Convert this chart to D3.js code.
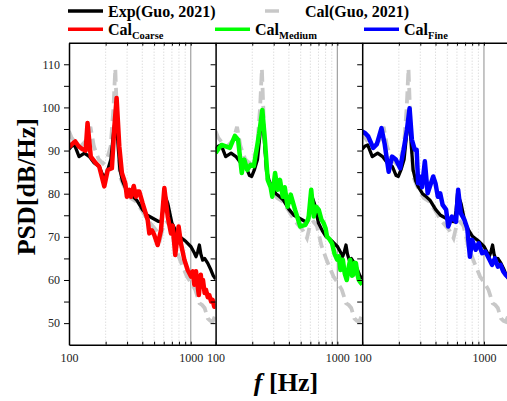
<!DOCTYPE html>
<html>
<head>
<meta charset="utf-8">
<script src="https://cdn.jsdelivr.net/npm/d3@7"></script>
<style>
  body { margin: 0; background: #fff; }
  text { font-family: "Liberation Serif", "Times New Roman", serif; }
</style>
</head>
<body>
<svg id="chart" width="507" height="401"></svg>
<script>
// ----- data -----
const freqExp = [100,105,111,121,134,147,160,177,190,198,208,221,232,242,252,262,275,290,313,330,360,402,440,487,540,570,590,607,625,647,700,750,805,860,913,1005,1060,1104,1140,1177,1210,1254,1300,1378,1466,1530,1600];
const psdExp  = [90.3,91,91.3,88.6,89.4,88.6,87.2,86.3,84.2,84,85.5,88,94,98,92,85.5,83,81.5,80,79.5,78.5,76.3,75,74.3,73.6,73.5,76,80.1,79,77.8,73.2,71.5,70.1,69.5,68.9,67.7,66.5,65.4,66.5,68.1,66,64.6,65,63.9,62.3,61,60.2];

const freqGuo = [100,105,112,125,140,150,160,175,190,205,220,232,240,250,262,280,320,355,400,440,520,563,600,640,680,740,820,930,1000,1090,1180,1240,1300,1380,1450,1510,1600];
const psdGuo  = [94.5,93,92,91,92.5,95.5,91,88,87,88,91,100,109,95,84,82,79,78.2,76,74,71.5,69.7,73,73.5,72.5,68,64.5,60.8,59.5,57.7,54.6,54.2,53.5,51.1,50.5,50.3,52];

const freqCoarse = [100,106,112.6,120,129,137,142,151,166,177,195,208,225,236,246,259,272,290,299,313,323,340,355,365,378,402,443,457,480,502,535,570,607,647,688,710,746,795,830,886,944,1005,1040,1070,1104,1135,1165,1209,1235,1260,1300,1335,1380,1420,1470,1512,1560,1600];
const psdCoarse  = [90.8,91.5,92.1,91,90.3,90,96.4,88.6,87.1,86.3,81.7,85.5,85.9,95.6,102.2,90.9,84.8,82.4,79.3,80.9,79.3,81.8,79.3,80.5,80.5,77.8,73.9,70.8,71.5,70.4,68.1,71.6,81.3,74.7,70.8,72.6,65.8,72.4,68.5,64.7,62.3,60.8,62,58.9,62,59,56.5,61.2,58.5,60,57,57.7,56,56.5,55,55.4,53.8,54.5];

const freqMedium = [100,106,112,123,131,144,153,164,172,182,194,206,217,228,242,254,268,283,292,308,323,338,356,370,390,414,449,496,547,580,610,640,670,703,740,771,800,822,860,904,950,995,1030,1060,1110,1150,1195,1240,1275,1320,1350,1390,1420,1470,1500,1560,1600];
const psdMedium  = [89.4,90.5,91.3,90.9,90.6,93.4,92.5,84.8,87.9,85.5,86.7,86.4,90.2,94,99.4,92.5,83.2,81.5,79.3,84.8,80.9,83.2,79.3,81.5,77,79.8,76.3,72.4,72.8,74.3,80.9,74.7,77,76.3,74,73.2,72,70.1,69.5,68.5,66,64.7,65.5,62.3,64.7,61.5,60,63,64.7,61,61.2,64,63.9,61,60,59.3,59];

const freqFine = [100,106,112,123,132,144,153,165,176,189,205,219,233,245,256,270,280,288,302,310,327,345,358,383,400,418,437,458,489,509,545,590,614,645,690,729,767,800,855,905,966,1025,1080,1120,1165,1230,1300,1370,1440,1510,1600];
const psdFine  = [94.4,94,93.3,90.6,91.5,95.2,91.5,85.1,88.6,87.9,85.9,90.2,94.8,99.8,92.5,90.2,90.2,82.4,83.9,81.5,87.5,80.1,81.5,84,82.4,79.3,80.1,77.4,76.3,72.4,74.7,73.5,80.9,75.5,74,72,65.4,69.3,67,68.5,66.2,66.6,65.4,64.5,63.5,65,63.1,63.5,62,61.2,60.5];

const xMajorTicks = [100, 1000];
const xMinorTicks = [200, 300, 400, 500, 600, 700, 800, 900];
const yTicks = [50, 55, 60, 65, 70, 75, 80, 85, 90, 95, 100, 105, 110];
const yLabelTicks = [50, 60, 70, 80, 90, 100, 110];

const panelSeries = [
    { name: "Coarse", freq: freqCoarse, psd: psdCoarse, color: "#ff0000" },
    { name: "Medium", freq: freqMedium, psd: psdMedium, color: "#00ff00" },
    { name: "Fine",   freq: freqFine,   psd: psdFine,   color: "#0000ff" }
];

// ----- layout -----
const svg = d3.select("#chart");
const margin = { top: 42.7, left: 69 };
const panelWidth = 146.6;
const plotHeight = 302;

const x = d3.scaleLog().domain([100, 1600]).range([0, panelWidth]);
const y = d3.scaleLinear().domain([45, 115]).range([plotHeight, 0]);

const line = d3.line()
    .x(d => x(d[0]))
    .y(d => y(d[1]));

const zip = (a, b) => a.map((v, i) => [v, b[i]]);

const defs = svg.append("defs");
defs.append("clipPath").attr("id", "panelClip")
    .append("rect")
    .attr("x", 0).attr("y", 0)
    .attr("width", panelWidth).attr("height", plotHeight);

panelSeries.forEach((s, i) => {
    const panel = svg.append("g")
        .attr("transform", `translate(${margin.left + i * panelWidth},${margin.top})`);

    // vertical grid
    panel.selectAll("line.minor").data(xMinorTicks)
        .join("line")
        .attr("class", "minor")
        .attr("x1", d => x(d)).attr("x2", d => x(d))
        .attr("y1", 0).attr("y2", plotHeight)
        .style("stroke", "#c4c4c4")
        .style("stroke-width", 0.8)
        .style("stroke-dasharray", "1,2");
    panel.append("line")
        .attr("x1", x(1000)).attr("x2", x(1000))
        .attr("y1", 0).attr("y2", plotHeight)
        .style("stroke", "#a0a0a0")
        .style("stroke-width", 1.2);

    const lines = panel.append("g").attr("clip-path", "url(#panelClip)");
    lines.append("path").datum(zip(freqGuo, psdGuo))
        .attr("d", line)
        .style("fill", "none")
        .style("stroke", "#c8c8c8")
        .style("stroke-width", 3.8)
        .style("stroke-dasharray", "12,6");
    lines.append("path").datum(zip(freqExp, psdExp))
        .attr("d", line)
        .style("fill", "none")
        .style("stroke", "#000")
        .style("stroke-width", 3.3)
        .style("stroke-linejoin", "round");
    lines.append("path").datum(zip(s.freq, s.psd))
        .attr("d", line)
        .style("fill", "none")
        .style("stroke", s.color)
        .style("stroke-width", 4.5)
        .style("stroke-linejoin", "round");

    // axes
    const bottom = panel.append("g")
        .attr("transform", `translate(0,${plotHeight})`)
        .call(d3.axisBottom(x)
            .tickValues(xMajorTicks.concat(xMinorTicks))
            .tickSizeInner(-3).tickSizeOuter(0).tickPadding(9)
            .tickFormat(d => xMajorTicks.includes(d) ? d : ""));
    const top = panel.append("g")
        .call(d3.axisTop(x)
            .tickValues(xMajorTicks.concat(xMinorTicks))
            .tickSizeInner(-3).tickSizeOuter(0)
            .tickFormat(""));
    const left = panel.append("g")
        .call(d3.axisLeft(y)
            .tickValues(yTicks)
            .tickSizeInner(5).tickSizeOuter(0).tickPadding(4)
            .tickFormat(d => (i === 0 && yLabelTicks.includes(d)) ? d : ""));

    [bottom, top, left].forEach(a => {
        a.select(".domain").style("stroke", "#000").style("stroke-width", 1.5);
        a.selectAll(".tick line").style("stroke", "#000").style("stroke-width", 1);
        a.selectAll("text")
            .style("font-family", '"Liberation Serif", serif')
            .style("font-size", "12px")
            .style("fill", "#222");
    });
});

// axis titles
svg.append("text")
    .attr("transform", `translate(35,${margin.top + plotHeight / 2 - 7}) rotate(-90)`)
    .attr("text-anchor", "middle")
    .style("font-size", "26px")
    .style("font-weight", "bold")
    .text("PSD[dB/Hz]");

const xTitle = svg.append("text")
    .attr("x", 286)
    .attr("y", 391)
    .attr("text-anchor", "middle")
    .style("font-size", "26px")
    .style("font-weight", "bold");
xTitle.append("tspan").style("font-style", "italic").text("f");
xTitle.append("tspan").text(" [Hz]");

// ----- legend -----
const legendItems = [
    { x: 68,  y: 11,   color: "#000",    dash: null,    main: "Exp(Guo, 2021)", sub: "" },
    { x: 265, y: 11,   color: "#c8c8c8", dash: "14,21", main: "Cal(Guo, 2021)", sub: "" },
    { x: 68,  y: 29.3, color: "#ff0000", dash: null,    main: "Cal", sub: "Coarse" },
    { x: 215, y: 29.3, color: "#00ff00", dash: null,    main: "Cal", sub: "Medium" },
    { x: 364, y: 29.3, color: "#0000ff", dash: null,    main: "Cal", sub: "Fine" }
];
const legend = svg.append("g");
legendItems.forEach(d => {
    legend.append("line")
        .attr("x1", d.x).attr("x2", d.x + 35)
        .attr("y1", d.y).attr("y2", d.y)
        .style("stroke", d.color)
        .style("stroke-width", 3.5)
        .style("stroke-dasharray", d.dash);
    const t = legend.append("text")
        .attr("x", d.x + 40)
        .attr("y", d.y + 6)
        .style("font-size", "16px")
        .style("font-weight", "bold");
    t.append("tspan").text(d.main);
    if (d.sub) {
        t.append("tspan")
            .attr("dy", 3.5)
            .style("font-size", "10.5px")
            .text(d.sub);
    }
});
</script>
</body>
</html>
